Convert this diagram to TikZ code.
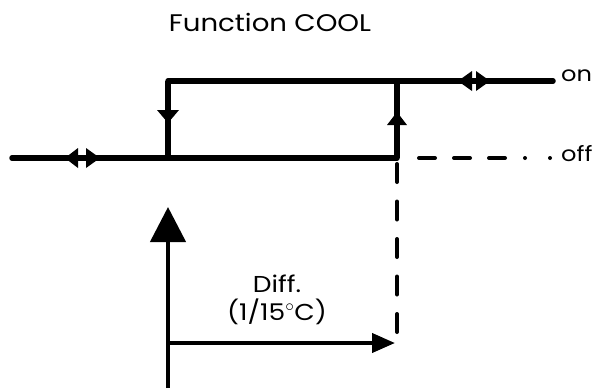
\documentclass[tikz,border=0pt]{standalone}
\usepackage{fontspec}
\setmainfont{Poppins}[FakeStretch=1.15]
\usepackage{tikz}
\usetikzlibrary{calc,arrows.meta}

\begin{document}
\begin{tikzpicture}[x=1pt, y=-1pt, line join=miter,
  heavy/.style={line width=5.5pt},
  dashline/.style={line width=4pt, line cap=round},
  label/.style={font=\fontsize{21}{22}\selectfont, inner sep=0pt}]
  \useasboundingbox (0,0) rectangle (598,389);
  \coordinate (L) at (12,158);
  \coordinate (A) at (168,158);
  \coordinate (B) at (168,81);
  \coordinate (C) at (397,81);
  \coordinate (D) at (397,158);
  \coordinate (E) at (553,81);
  \coordinate (F) at (553,158);
  \coordinate (G) at (397,336);
  \coordinate (P) at (168,388);
  \coordinate (Q) at (168,207);
  \coordinate (R) at (168,343);
  \coordinate (S) at (395,343);
  % off level, switch-on edge, top level, switch-off edge
  \draw[heavy, line cap=round] (L) -- (D);
  \draw[heavy] (A) -- (B);
  \draw[heavy, line cap=round] (B) -- (E);
  \draw[heavy] (D) -- (C);
  % small heads on the levels (both ways) and on the edges
  \foreach \tx/\bx/\yy in {65/78/158, 100/86/158, 458/472/81, 490/476/81}
    {\fill (\tx,\yy) -- (\bx,\yy-10) -- (\bx,\yy+10) -- cycle;}
  \fill (168,123) -- (157,110) -- (179,110) -- cycle;
  \fill (397,112) -- (387,125) -- (407,125) -- cycle;
  % dashed continuation
  \draw[dashline, dash pattern=on 0pt off 22pt on 16pt off 19pt on 16pt off 19pt on 16pt off 20pt on 0pt off 25pt on 0pt off 20pt] (D) -- (F);
  \draw[dashline, dash pattern=on 18pt off 19.5pt, dash phase=31.5pt] (D) -- (G);
  % temperature axis and differential
  \draw[line width=4.5pt, -{Triangle[length=35pt,width=35pt]}] (P) -- (Q);
  \draw[line width=4pt, -{Triangle[length=23pt,width=19pt]}] (R) -- (S);
  % texts
  \node[label, font=\fontsize{24}{26}\selectfont] (title) at (270,22) {Function COOL};
  \node[label, anchor=west] (on) at ($(E)+(8,-5)$) {on};
  \node[label, anchor=west] (off) at ($(F)+(8,-4)$) {off};
  \node[label, font=\fontsize{23}{24}\selectfont, align=center] (diff) at (277,300) {Diff.\\[4pt](1/15$^{\circ}$C)};
\end{tikzpicture}
\end{document}
